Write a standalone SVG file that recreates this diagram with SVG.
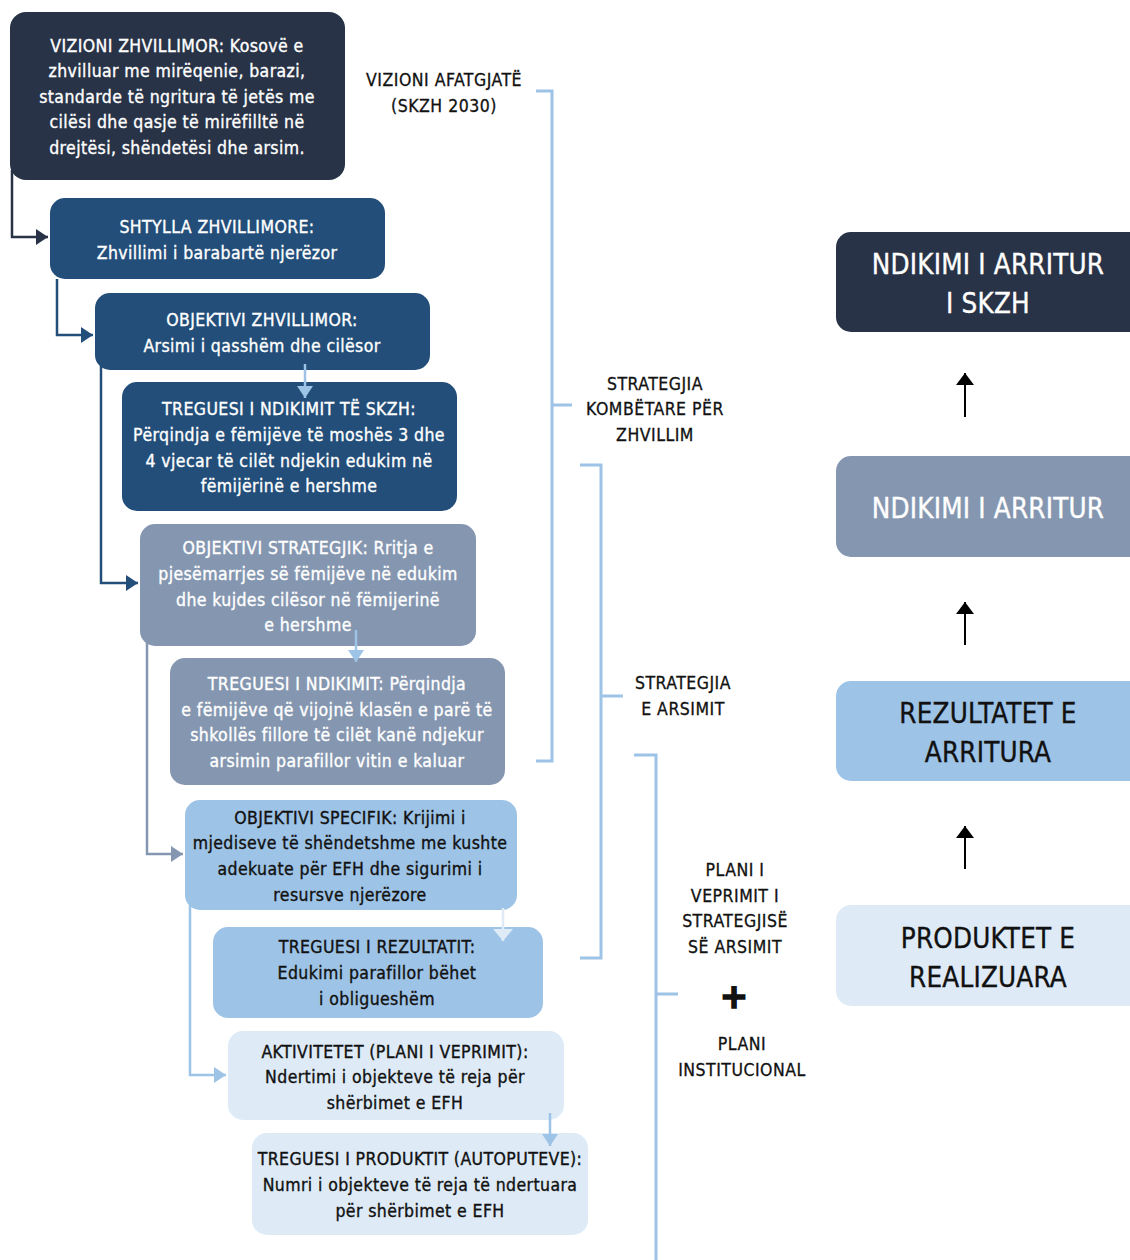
<svg xmlns="http://www.w3.org/2000/svg" width="1130" height="1260" viewBox="0 0 1130 1260">
<style>
text{font-family:"DejaVu Sans Condensed","Liberation Sans",sans-serif;font-weight:normal;text-anchor:middle;}
.t{font-size:17.5px;letter-spacing:0.4px;}
.w{fill:#ffffff;stroke:#ffffff;stroke-width:0.35px;}
.d{fill:#111111;stroke:#111111;stroke-width:0.35px;}
.big{font-size:27.5px;letter-spacing:0.2px;}
.lab{font-size:17.5px;letter-spacing:0.5px;fill:#111111;stroke:#111111;stroke-width:0.3px;}
.plus{font-family:"DejaVu Sans",sans-serif;font-weight:bold;font-size:34px;fill:#111111;stroke:#111111;stroke-width:1.6px;}
.c1{fill:#283347;}
.c2{fill:#224E79;}
.c3{fill:#8597B0;}
.c4{fill:#9DC3E6;}
.c5{fill:#DEEBF7;}
.br{fill:none;stroke:#9DC3E6;stroke-width:3;}
</style>
<defs>
<marker id="m1" markerUnits="userSpaceOnUse" markerWidth="14" markerHeight="16" refX="12" refY="8" orient="auto"><path d="M0,0 L12,8 L0,16 Z" fill="#283347"/></marker>
<marker id="m2" markerUnits="userSpaceOnUse" markerWidth="14" markerHeight="16" refX="12" refY="8" orient="auto"><path d="M0,0 L12,8 L0,16 Z" fill="#224E79"/></marker>
<marker id="m3" markerUnits="userSpaceOnUse" markerWidth="14" markerHeight="16" refX="12" refY="8" orient="auto"><path d="M0,0 L12,8 L0,16 Z" fill="#8597B0"/></marker>
<marker id="m4" markerUnits="userSpaceOnUse" markerWidth="14" markerHeight="16" refX="12" refY="8" orient="auto"><path d="M0,0 L12,8 L0,16 Z" fill="#9DC3E6"/></marker>
<marker id="m5" markerUnits="userSpaceOnUse" markerWidth="14" markerHeight="20" refX="12" refY="10" orient="auto"><path d="M0,0 L12,10 L0,20 Z" fill="#DEEBF7"/></marker>
<marker id="mk" markerUnits="userSpaceOnUse" markerWidth="14" markerHeight="20" refX="12" refY="10" orient="auto"><path d="M0,1 L12,10 L0,19 Z" fill="#000000"/></marker>
</defs>

<g id="node-vizioni">
<rect class="c1" x="10" y="12" width="335" height="168" rx="16"/>
<text class="t w" x="177" y="52">VIZIONI ZHVILLIMOR: Kosovë e</text>
<text class="t w" x="177" y="77">zhvilluar me mirëqenie, barazi,</text>
<text class="t w" x="177" y="103">standarde të ngritura të jetës me</text>
<text class="t w" x="177" y="128">cilësi dhe qasje të mirëfilltë në</text>
<text class="t w" x="177" y="154">drejtësi, shëndetësi dhe arsim.</text>
</g>
<g id="node-shtylla">
<rect class="c2" x="50" y="198" width="335" height="81" rx="15"/>
<text class="t w" x="217" y="233">SHTYLLA ZHVILLIMORE:</text>
<text class="t w" x="217" y="259">Zhvillimi i barabartë njerëzor</text>
</g>
<g id="node-obj-zhvillimor">
<rect class="c2" x="95" y="293" width="335" height="77" rx="15"/>
<text class="t w" x="262" y="326">OBJEKTIVI ZHVILLIMOR:</text>
<text class="t w" x="262" y="352">Arsimi i qasshëm dhe cilësor</text>
</g>
<g id="node-treguesi-skzh">
<rect class="c2" x="122" y="382" width="335" height="129" rx="15"/>
<text class="t w" x="289" y="415">TREGUESI I NDIKIMIT TË SKZH:</text>
<text class="t w" x="289" y="441">Përqindja e fëmijëve të moshës 3 dhe</text>
<text class="t w" x="289" y="467">4 vjecar të cilët ndjekin edukim në</text>
<text class="t w" x="289" y="492">fëmijërinë e hershme</text>
</g>
<g id="node-obj-strategjik">
<rect class="c3" x="140" y="524" width="336" height="122" rx="15"/>
<text class="t w" x="308" y="554">OBJEKTIVI STRATEGJIK: Rritja e</text>
<text class="t w" x="308" y="580">pjesëmarrjes së fëmijëve në edukim</text>
<text class="t w" x="308" y="606">dhe kujdes cilësor në fëmijerinë</text>
<text class="t w" x="308" y="631">e hershme</text>
</g>
<g id="node-treguesi-ndikimit">
<rect class="c3" x="170" y="658" width="335" height="127" rx="15"/>
<text class="t w" x="337" y="690">TREGUESI I NDIKIMIT: Përqindja</text>
<text class="t w" x="337" y="716">e fëmijëve që vijojnë klasën e parë të</text>
<text class="t w" x="337" y="741">shkollës fillore të cilët kanë ndjekur</text>
<text class="t w" x="337" y="767">arsimin parafillor vitin e kaluar</text>
</g>
<g id="node-obj-specifik">
<rect class="c4" x="185" y="800" width="332" height="110" rx="15"/>
<text class="t d" x="350" y="824">OBJEKTIVI SPECIFIK: Krijimi i</text>
<text class="t d" x="350" y="849">mjediseve të shëndetshme me kushte</text>
<text class="t d" x="350" y="875">adekuate për EFH dhe sigurimi i</text>
<text class="t d" x="350" y="901">resursve njerëzore</text>
</g>
<g id="node-treguesi-rezultatit">
<rect class="c4" x="213" y="927" width="330" height="91" rx="15"/>
<text class="t d" x="377" y="953">TREGUESI I REZULTATIT:</text>
<text class="t d" x="377" y="979">Edukimi parafillor bëhet</text>
<text class="t d" x="377" y="1005">i obligueshëm</text>
</g>
<g id="node-aktivitetet">
<rect class="c5" x="228" y="1031" width="336" height="89" rx="15"/>
<text class="t d" x="395" y="1058">AKTIVITETET (PLANI I VEPRIMIT):</text>
<text class="t d" x="395" y="1083">Ndertimi i objekteve të reja për</text>
<text class="t d" x="395" y="1109">shërbimet e EFH</text>
</g>
<g id="node-treguesi-produktit">
<rect class="c5" x="252" y="1133" width="336" height="102" rx="15"/>
<text class="t d" x="420" y="1165">TREGUESI I PRODUKTIT (AUTOPUTEVE):</text>
<text class="t d" x="420" y="1191">Numri i objekteve të reja të ndertuara</text>
<text class="t d" x="420" y="1217">për shërbimet e EFH</text>
</g>

<g id="node-ndikimi-skzh">
<rect class="c1" x="836" y="232" width="310" height="100" rx="15"/>
<text class="big w" x="988" y="274">NDIKIMI I ARRITUR</text>
<text class="big w" x="988" y="313">I SKZH</text>
</g>
<g id="node-ndikimi">
<rect class="c3" x="836" y="456" width="310" height="101" rx="15"/>
<text class="big w" x="988" y="518">NDIKIMI I ARRITUR</text>
</g>
<g id="node-rezultatet">
<rect class="c4" x="836" y="681" width="310" height="100" rx="15"/>
<text class="big d" x="988" y="723">REZULTATET E</text>
<text class="big d" x="988" y="762">ARRITURA</text>
</g>
<g id="node-produktet">
<rect class="c5" x="836" y="905" width="310" height="101" rx="15"/>
<text class="big d" x="988" y="948">PRODUKTET E</text>
<text class="big d" x="988" y="987">REALIZUARA</text>
</g>

<g id="labels">
<text class="lab" x="444" y="86">VIZIONI AFATGJATË</text>
<text class="lab" x="444" y="112">(SKZH 2030)</text>
<text class="lab" x="655" y="390">STRATEGJIA</text>
<text class="lab" x="655" y="415">KOMBËTARE PËR</text>
<text class="lab" x="655" y="441">ZHVILLIM</text>
<text class="lab" x="683" y="689">STRATEGJIA</text>
<text class="lab" x="683" y="715">E ARSIMIT</text>
<text class="lab" x="735" y="876">PLANI I</text>
<text class="lab" x="735" y="902">VEPRIMIT I</text>
<text class="lab" x="735" y="927">STRATEGJISË</text>
<text class="lab" x="735" y="953">SË ARSIMIT</text>
<text class="plus" x="734" y="1008">+</text>
<text class="lab" x="742" y="1050">PLANI</text>
<text class="lab" x="742" y="1076">INSTITUCIONAL</text>
</g>

<g id="connectors">
<path d="M12,170 V237 H48" fill="none" stroke="#283347" stroke-width="2.5" marker-end="url(#m1)"/>
<path d="M57,279 V335 H93" fill="none" stroke="#224E79" stroke-width="2.5" marker-end="url(#m2)"/>
<path d="M101,366 V583 H138" fill="none" stroke="#224E79" stroke-width="2.5" marker-end="url(#m2)"/>
<path d="M147,640 V854 H183" fill="none" stroke="#8597B0" stroke-width="2.5" marker-end="url(#m3)"/>
<path d="M190,905 V1075 H226" fill="none" stroke="#9DC3E6" stroke-width="2.5" marker-end="url(#m4)"/>
<path d="M305,364 V398" fill="none" stroke="#9DC3E6" stroke-width="2.5" marker-end="url(#m4)"/>
<path d="M356,630 V662" fill="none" stroke="#9DC3E6" stroke-width="2.5" marker-end="url(#m4)"/>
<path d="M503,908 V941" fill="none" stroke="#DEEBF7" stroke-width="2.5" marker-end="url(#m5)"/>
<path d="M550,1113 V1146" fill="none" stroke="#9DC3E6" stroke-width="2.5" marker-end="url(#m4)"/>
<path d="M965,417 V373" fill="none" stroke="#000000" stroke-width="2" marker-end="url(#mk)"/>
<path d="M965,645 V602" fill="none" stroke="#000000" stroke-width="2" marker-end="url(#mk)"/>
<path d="M965,869 V826" fill="none" stroke="#000000" stroke-width="2" marker-end="url(#mk)"/>
<path class="br" d="M536,91 H552 V761 H536 M552,405 H572"/>
<path class="br" d="M580,465 H601 V958 H580 M601,696 H623"/>
<path class="br" d="M634,755 H656 V1262 M656,994 H678"/>
</g>
</svg>
